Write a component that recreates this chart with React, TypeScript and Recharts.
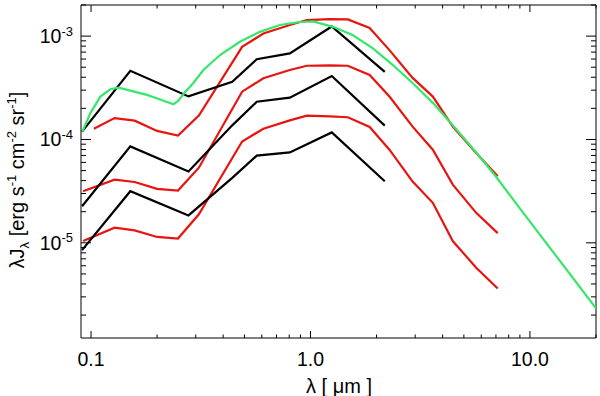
import React from 'react';
import { LineChart, Line, XAxis, YAxis, ReferenceLine } from 'recharts';

// ---- data (wavelength in micron, lambda*J_lambda in erg s^-1 cm^-2 sr^-1) ----
const blackX = [0.091, 0.151, 0.278, 0.44, 0.569, 0.805, 1.25, 2.18];
const blackHighY = [1.19e-4, 4.62e-4, 2.61e-4, 3.62e-4, 5.97e-4, 6.81e-4, 1.24e-3, 4.5e-4];
const blackMidY = [2.26e-5, 8.57e-5, 4.9e-5, 1.37e-4, 2.32e-4, 2.54e-4, 4.11e-4, 1.36e-4];
const blackLowY = [8.5e-6, 3.16e-5, 1.84e-5, 4.25e-5, 6.97e-5, 7.5e-5, 1.17e-4, 3.94e-5];

const redTopX = [0.103, 0.128, 0.158, 0.2, 0.249, 0.31, 0.488, 0.61, 0.805, 0.962, 1.22, 1.48, 1.86, 2.29, 2.92, 3.61, 4.45, 5.69, 7.13];
const redX = [0.092, 0.128, 0.158, 0.2, 0.249, 0.31, 0.488, 0.61, 0.805, 0.962, 1.22, 1.48, 1.86, 2.29, 2.92, 3.61, 4.45, 5.69, 7.13];
const redHighY = [1.27e-4, 1.61e-4, 1.52e-4, 1.21e-4, 1.09e-4, 1.7e-4, 7.88e-4, 1.06e-3, 1.28e-3, 1.43e-3, 1.46e-3, 1.45e-3, 1.2e-3, 7.32e-4, 3.94e-4, 2.6e-4, 1.33e-4, 7.39e-5, 4.4e-5];
const redMidY = [3.15e-5, 4.09e-5, 3.88e-5, 3.33e-5, 3.2e-5, 5.33e-5, 2.9e-4, 3.91e-4, 4.7e-4, 5.17e-4, 5.21e-4, 5.17e-4, 4.21e-4, 2.6e-4, 1.33e-4, 7.96e-5, 3.66e-5, 1.95e-5, 1.24e-5];
const redLowY = [1.04e-5, 1.4e-5, 1.32e-5, 1.14e-5, 1.1e-5, 1.89e-5, 9.57e-5, 1.27e-4, 1.53e-4, 1.7e-4, 1.67e-4, 1.64e-4, 1.32e-4, 7.96e-5, 3.91e-5, 2.44e-5, 1.04e-5, 5.75e-6, 3.61e-6];

const greenX = [0.0913, 0.0993, 0.1103, 0.1224, 0.1335, 0.1509, 0.1797, 0.2065, 0.2373, 0.2493, 0.2683, 0.2926, 0.325, 0.387, 0.477, 0.588, 0.725, 0.894, 1.028, 1.267, 1.562, 1.925, 2.374, 2.927, 3.608, 4.448, 5.68, 7.01, 8.94, 20];
const greenY = [1.19e-4, 1.8e-4, 2.6e-4, 3.06e-4, 3.17e-4, 2.97e-4, 2.7e-4, 2.44e-4, 2.19e-4, 2.36e-4, 2.88e-4, 3.52e-4, 4.7e-4, 6.56e-4, 8.81e-4, 1.1e-3, 1.28e-3, 1.37e-3, 1.39e-3, 1.23e-3, 1.02e-3, 7.61e-4, 5.25e-4, 3.5e-4, 2.26e-4, 1.37e-4, 7.53e-5, 4.36e-5, 2.19e-5, 2.33e-6];

const xDomain = [0.09, 20];
const yDomain = [1.2e-6, 2e-3];

const xMajorTicks = [0.1, 1, 10];
const xTickLabels = ['0.1', '1.0', '10.0'];
const xMinorTicks = [0.2, 0.3, 0.4, 0.5, 0.6, 0.7, 0.8, 0.9, 2, 3, 4, 5, 6, 7, 8, 9, 20];

const yMajorTicks = [1e-5, 1e-4, 1e-3];
const yTickExponents = ['-5', '-4', '-3'];
const yMinorTicks = [
  2e-6, 3e-6, 4e-6, 5e-6, 6e-6, 7e-6, 8e-6, 9e-6,
  2e-5, 3e-5, 4e-5, 5e-5, 6e-5, 7e-5, 8e-5, 9e-5,
  2e-4, 3e-4, 4e-4, 5e-4, 6e-4, 7e-4, 8e-4, 9e-4,
  2e-3,
];

const xLabel = 'λ [ μm ]';

// ---- styling ----
const W = 600;
const H = 396;
const PLOT_W = 515;
const PLOT_H = 333;
const FONT = '"Liberation Sans", Arial, Helvetica, sans-serif';
const BLACK = '#000000';
const RED = '#e8140f';
const GREEN = '#33e86a';

const toPts = (xs: number[], ys: number[]) => xs.map((x, i) => ({ x, y: ys[i] }));

const series = [
  { key: 'rh', data: toPts(redTopX, redHighY), color: RED },
  { key: 'rm', data: toPts(redX, redMidY), color: RED },
  { key: 'rl', data: toPts(redX, redLowY), color: RED },
  { key: 'bh', data: toPts(blackX, blackHighY), color: BLACK },
  { key: 'bm', data: toPts(blackX, blackMidY), color: BLACK },
  { key: 'bl', data: toPts(blackX, blackLowY), color: BLACK },
  { key: 'g', data: toPts(greenX, greenY), color: GREEN },
];

const XTick = (props: any) => {
  const { x, y, payload } = props;
  const idx = xMajorTicks.indexOf(payload.value);
  const major = idx >= 0;
  const len = major ? 7 : 3.5;
  return (
    <g>
      <line x1={x} y1={y} x2={x} y2={y - len} stroke={BLACK} strokeWidth={1} />
      <line x1={x} y1={y - PLOT_H} x2={x} y2={y - PLOT_H + len} stroke={BLACK} strokeWidth={1} />
      {major && (
        <text x={x} y={y + 28} textAnchor="middle" fontFamily={FONT} fontSize={19.5} fill={BLACK}>
          {xTickLabels[idx]}
        </text>
      )}
    </g>
  );
};

const YTick = (props: any) => {
  const { x, y, payload } = props;
  const idx = yMajorTicks.indexOf(payload.value);
  const major = idx >= 0;
  const len = major ? 10 : 5;
  return (
    <g>
      <line x1={x} y1={y} x2={x + len} y2={y} stroke={BLACK} strokeWidth={1} />
      <line x1={x + PLOT_W} y1={y} x2={x + PLOT_W - len} y2={y} stroke={BLACK} strokeWidth={1} />
      {major && (
        <text x={x - 8} y={y + 7} textAnchor="end" fontFamily={FONT} fontSize={19.5} fill={BLACK}>
          10
          <tspan dy={-7.5} fontSize={13}>{yTickExponents[idx]}</tspan>
        </text>
      )}
    </g>
  );
};

export default function App() {
  return (
    <div style={{ position: 'absolute', left: 0, top: 0, width: W, height: H, background: '#fff' }}>
      <LineChart width={W} height={H} margin={{ top: 5, right: 4, bottom: 0, left: 0 }}>
        <XAxis
          dataKey="x"
          type="number"
          scale="log"
          domain={xDomain}
          allowDataOverflow
          ticks={[...xMajorTicks, ...xMinorTicks]}
          interval={0}
          tick={<XTick />}
          tickLine={false}
          tickSize={0}
          tickMargin={0}
          height={58}
          axisLine={{ stroke: BLACK, strokeWidth: 1 }}
        />
        <YAxis
          type="number"
          scale="log"
          domain={yDomain}
          allowDataOverflow
          ticks={[...yMajorTicks, ...yMinorTicks]}
          interval={0}
          tick={<YTick />}
          tickLine={false}
          tickSize={0}
          tickMargin={0}
          width={81}
          axisLine={{ stroke: BLACK, strokeWidth: 1 }}
        />
        <ReferenceLine y={yDomain[1]} stroke={BLACK} strokeWidth={1} />
        <ReferenceLine x={xDomain[1]} stroke={BLACK} strokeWidth={1} />
        {series.map((s) => (
          <Line
            key={s.key}
            data={s.data}
            dataKey="y"
            type="linear"
            stroke={s.color}
            strokeWidth={2.2}
            dot={false}
            activeDot={false}
            isAnimationActive={false}
          />
        ))}
      </LineChart>
      <svg width={W} height={H} style={{ position: 'absolute', left: 0, top: 0, pointerEvents: 'none' }}>
        <text x={339} y={393} textAnchor="middle" fontFamily={FONT} fontSize={20} fill={BLACK}>
          {xLabel}
        </text>
        <text transform="translate(24,180) rotate(-90)" textAnchor="middle" fontFamily={FONT} fontSize={20} fill={BLACK}>
          λJ
          <tspan fontSize={13} dy={5}>λ</tspan>
          <tspan dy={-5}> [erg s</tspan>
          <tspan fontSize={13} dy={-8}>-1</tspan>
          <tspan dy={8}> cm</tspan>
          <tspan fontSize={13} dy={-8}>-2</tspan>
          <tspan dy={8}> sr</tspan>
          <tspan fontSize={13} dy={-8}>-1</tspan>
          <tspan dy={8}>]</tspan>
        </text>
      </svg>
    </div>
  );
}
